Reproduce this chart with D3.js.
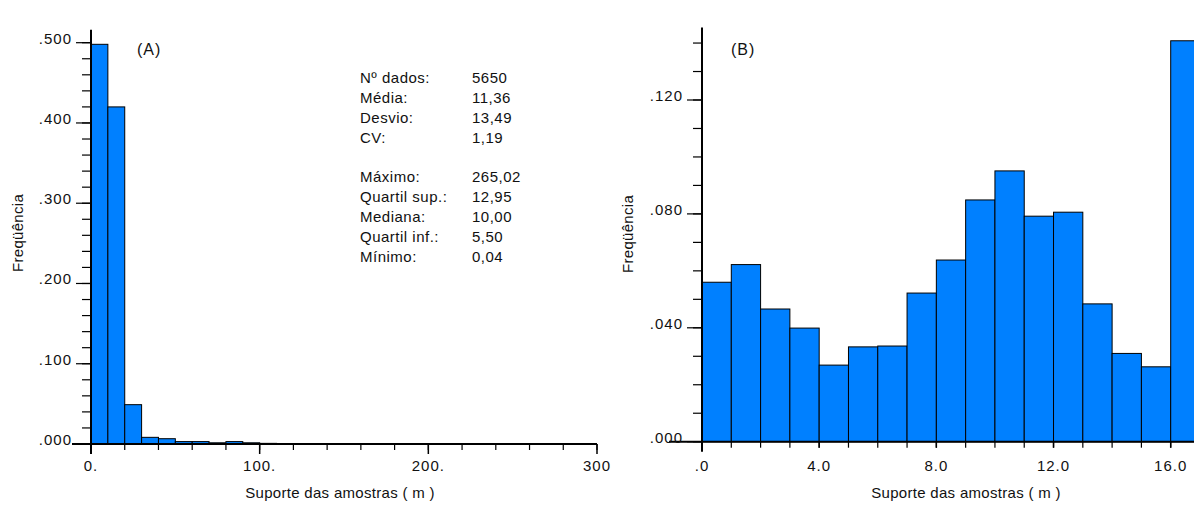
<!DOCTYPE html>
<html>
<head>
<meta charset="utf-8">
<script src="https://cdn.jsdelivr.net/npm/d3@7"></script>
<style>
  html, body { margin: 0; padding: 0; background: #ffffff; }
  svg { display: block; }
  text { font-family: "Liberation Sans", Arial, sans-serif; fill: #111; }
</style>
</head>
<body>
<svg id="chart" width="1194" height="506"></svg>
<script>
// Panel A: full histogram of sample support lengths (10 m bins, 0–300 m)
const binWidthA = 10;
const freqA = [0.498, 0.420, 0.049, 0.0083, 0.0066, 0.003, 0.003, 0.0015, 0.003, 0.0015,
               0.0008, 0.0006, 0.0005, 0.0004, 0.0004, 0.0003, 0.0003, 0.0002, 0.0002, 0.0002,
               0.0001, 0.0001, 0.0001, 0.0001, 0.0001, 0.0001, 0.0001, 0, 0, 0];
const yTicksA = [0, 0.1, 0.2, 0.3, 0.4, 0.5];
const yTickLabelsA = [".000", ".100", ".200", ".300", ".400", ".500"];
const xTicksA = [0, 100, 200, 300];
const xTickLabelsA = ["0.", "100.", "200.", "300"];

// Panel B: detail of the 0–17 m range (1 m bins, last bin collects >= 16 m)
const binWidthB = 1;
const freqB = [0.056, 0.0622, 0.0466, 0.0399, 0.0269, 0.0333, 0.0336, 0.0522, 0.0638,
               0.0849, 0.0951, 0.0792, 0.0806, 0.0484, 0.0310, 0.0263, 0.1408];
const yTicksB = [0, 0.04, 0.08, 0.12];
const yTickLabelsB = [".000", ".040", ".080", ".120"];
const xTicksB = [0, 4, 8, 12, 16];
const xTickLabelsB = [".0", "4.0", "8.0", "12.0", "16.0"];

// Summary statistics printed in panel A
const statLabels = ["Nº dados:", "Média:", "Desvio:", "CV:", "", "Máximo:", "Quartil sup.:", "Mediana:", "Quartil inf.:", "Mínimo:"];
const statValues = ["5650", "11,36", "13,49", "1,19", "", "265,02", "12,95", "10,00", "5,50", "0,04"];

const axisTitleX = "Suporte das amostras ( m )";
const axisTitleY = "Freqüência";

const BAR_FILL = "#0080ff";
const svg = d3.select("#chart");

function drawPanel(cfg) {
  const g = svg.append("g");
  const x = d3.scaleLinear().domain(cfg.xDomain).range(cfg.xRange);
  const y = d3.scaleLinear().domain(cfg.yDomain).range(cfg.yRange);

  // bars
  g.selectAll("rect.bar")
    .data(cfg.freq)
    .enter().append("rect")
    .attr("class", "bar")
    .attr("x", (d, i) => x(i * cfg.binWidth))
    .attr("width", (d, i) => x((i + 1) * cfg.binWidth) - x(i * cfg.binWidth))
    .attr("y", d => y(d))
    .attr("height", d => y(0) - y(d))
    .attr("fill", BAR_FILL)
    .attr("stroke", "#000")
    .attr("stroke-width", 1);

  // y axis line
  g.append("line")
    .attr("x1", x(0)).attr("x2", x(0))
    .attr("y1", y(cfg.yTop)).attr("y2", y(0) + cfg.yAxisBelow)
    .attr("stroke", "#000").attr("stroke-width", 2);

  // x axis line
  g.append("line")
    .attr("x1", x(0) - cfg.xAxisLeft).attr("x2", cfg.xAxisEnd)
    .attr("y1", y(0)).attr("y2", y(0))
    .attr("stroke", "#000").attr("stroke-width", 2);

  // y minor + major ticks
  const yMinor = d3.range(0, cfg.yTop + 1e-9, cfg.yMinorStep);
  g.selectAll("line.ymin").data(yMinor).enter().append("line")
    .attr("x1", x(0) - 9).attr("x2", x(0))
    .attr("y1", d => y(d)).attr("y2", d => y(d))
    .attr("stroke", "#000").attr("stroke-width", 1.2);
  g.selectAll("line.ymaj").data(cfg.yTicks).enter().append("line")
    .attr("x1", x(0) - 15).attr("x2", x(0))
    .attr("y1", d => y(d)).attr("y2", d => y(d))
    .attr("stroke", "#000").attr("stroke-width", 1.2);
  g.selectAll("text.ylab").data(cfg.yTicks).enter().append("text")
    .attr("x", x(0) - 19)
    .attr("y", d => y(d) + 1)
    .attr("text-anchor", "end")
    .style("font-size", "15px")
    .style("letter-spacing", "1px")
    .text((d, i) => cfg.yTickLabels[i]);

  // x minor + major ticks
  const xMinor = d3.range(0, cfg.xDomain[1] + 1e-9, cfg.xMinorStep);
  g.selectAll("line.xmin").data(xMinor).enter().append("line")
    .attr("x1", d => x(d)).attr("x2", d => x(d))
    .attr("y1", y(0)).attr("y2", y(0) + 6)
    .attr("stroke", "#000").attr("stroke-width", 1.2);
  g.selectAll("line.xmaj").data(cfg.xTicks).enter().append("line")
    .attr("x1", d => x(d)).attr("x2", d => x(d))
    .attr("y1", y(0)).attr("y2", y(0) + cfg.xMajorLen)
    .attr("stroke", "#000").attr("stroke-width", 1.5);
  g.selectAll("text.xlab").data(cfg.xTicks).enter().append("text")
    .attr("x", d => x(d))
    .attr("y", 471)
    .attr("text-anchor", "middle")
    .style("font-size", "15px")
    .style("letter-spacing", "1px")
    .text((d, i) => cfg.xTickLabels[i]);

  // axis titles
  g.append("text")
    .attr("x", cfg.xTitleX).attr("y", 498)
    .attr("text-anchor", "middle")
    .style("font-size", "15px")
    .style("letter-spacing", "0.3px")
    .text(axisTitleX);
  g.append("text")
    .attr("transform", `translate(${cfg.yTitleX},${cfg.yTitleY}) rotate(-90)`)
    .attr("text-anchor", "middle")
    .style("font-size", "15px")
    .style("letter-spacing", "0.3px")
    .text(axisTitleY);

  // panel tag
  g.append("text")
    .attr("x", cfg.tagX).attr("y", 55)
    .style("font-size", "16px")
    .style("letter-spacing", "1px")
    .text(cfg.tag);

  return { g, x, y };
}

drawPanel({
  freq: freqA, binWidth: binWidthA,
  xDomain: [0, 300], xRange: [91, 597],
  yDomain: [0, 0.5], yRange: [444, 42.7],
  yTop: 0.516, yMinorStep: 0.02, xMinorStep: 20,
  yTicks: yTicksA, yTickLabels: yTickLabelsA,
  xTicks: xTicksA, xTickLabels: xTickLabelsA,
  xMajorLen: 10, yAxisBelow: 10, xAxisLeft: 19, xAxisEnd: 597,
  xTitleX: 340, yTitleX: 23, yTitleY: 233,
  tag: "(A)", tagX: 137
});

drawPanel({
  freq: freqB, binWidth: binWidthB,
  xDomain: [0, 16], xRange: [702, 1170.7],
  yDomain: [0, 0.12], yRange: [441.7, 100],
  yTop: 0.1455, yMinorStep: 0.01, xMinorStep: 1,
  yTicks: yTicksB, yTickLabels: yTickLabelsB,
  xTicks: xTicksB, xTickLabels: xTickLabelsB,
  xMajorLen: 6, yAxisBelow: 10, xAxisLeft: 33, xAxisEnd: 1194,
  xTitleX: 966, yTitleX: 633, yTitleY: 234,
  tag: "(B)", tagX: 731
});

// statistics block
const stats = svg.append("g").style("font-size", "15px").style("letter-spacing", "0.5px");
const rowY = d3.scaleLinear().domain([0, 9]).range([83, 261.5]);
stats.selectAll("text.slab").data(statLabels).enter().append("text")
  .attr("x", 360).attr("y", (d, i) => rowY(i)).text(d => d);
stats.selectAll("text.sval").data(statValues).enter().append("text")
  .attr("x", 472).attr("y", (d, i) => rowY(i)).text(d => d);
</script>
</body>
</html>
